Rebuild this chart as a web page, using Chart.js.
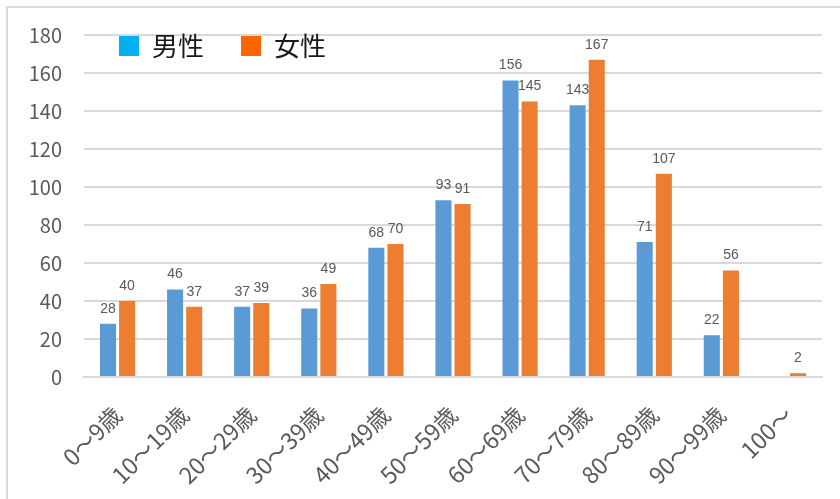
<!DOCTYPE html>
<html>
<head>
<meta charset="utf-8">
<script src="https://cdn.jsdelivr.net/npm/chart.js@4.4.0/dist/chart.umd.min.js"></script>
<style>
  html, body { margin: 0; padding: 0; background: #fff; }
  #wrap { position: relative; width: 840px; height: 499px; overflow: hidden; }
  #frame {
    position: absolute; left: 6px; top: 6px; right: -10px; bottom: -10px;
    border-top: 2px solid #d9d9d9; border-left: 2px solid #d9d9d9;
  }
  canvas { position: absolute; left: 0; top: 0; }
</style>
</head>
<body>
<div id="wrap">
  <div id="frame"></div>
  <canvas id="chart" width="840" height="499"></canvas>
</div>
<script>
// Age groups and counts
const ageGroups = ['0～9歳', '10～19歳', '20～29歳', '30～39歳', '40～49歳',
  '50～59歳', '60～69歳', '70～79歳', '80～89歳', '90～99歳', '100～'];
const maleCounts = [28, 46, 37, 36, 68, 93, 156, 143, 71, 22, null];
const femaleCounts = [40, 37, 39, 49, 70, 91, 145, 167, 107, 56, 2];
const seriesNames = ['男性', '女性'];
const yTicks = [0, 20, 40, 60, 80, 100, 120, 140, 160, 180];

const barColors = ['#5B9BD5', '#ED7D31'];
const legendColors = ['#00B0F0', '#FF6600'];
const textGray = '#595959';
const gridGray = '#d9d9d9';

// Value labels above each bar
const valueLabels = {
  id: 'valueLabels',
  afterDatasetsDraw(chart) {
    const ctx = chart.ctx;
    ctx.save();
    ctx.font = '14px "Liberation Sans", Arial, sans-serif';
    ctx.fillStyle = textGray;
    ctx.textAlign = 'center';
    ctx.textBaseline = 'bottom';
    chart.data.datasets.forEach((ds, i) => {
      const meta = chart.getDatasetMeta(i);
      meta.data.forEach((bar, j) => {
        const v = ds.data[j];
        if (v === null || v === undefined) return;
        ctx.fillText(String(v), bar.x, bar.y - 8);
      });
    });
    ctx.restore();
  }
};

// Legend drawn over the plot, top-left
const overlayLegend = {
  id: 'overlayLegend',
  afterDraw(chart) {
    const ctx = chart.ctx;
    ctx.save();
    ctx.font = '26px "Noto Sans CJK JP", sans-serif';
    ctx.textBaseline = 'middle';
    ctx.textAlign = 'left';
    const xs = [119, 241];
    seriesNames.forEach((name, i) => {
      ctx.fillStyle = legendColors[i];
      ctx.fillRect(xs[i], 36, 20, 20);
      ctx.fillStyle = '#1a1a1a';
      ctx.fillText(name, xs[i] + 33, 46);
    });
    ctx.restore();
  }
};

new Chart(document.getElementById('chart').getContext('2d'), {
  type: 'bar',
  data: {
    labels: ageGroups,
    datasets: [
      {
        label: seriesNames[0],
        data: maleCounts,
        backgroundColor: barColors[0],
        categoryPercentage: 0.57,
        barPercentage: 0.84
      },
      {
        label: seriesNames[1],
        data: femaleCounts,
        backgroundColor: barColors[1],
        categoryPercentage: 0.57,
        barPercentage: 0.84
      }
    ]
  },
  options: {
    responsive: false,
    animation: false,
    layout: { padding: { left: 0, top: 35, right: 18, bottom: 0 } },
    plugins: {
      legend: { display: false },
      tooltip: { enabled: false }
    },
    scales: {
      x: {
        grid: { display: false, drawTicks: false },
        border: { display: true, color: gridGray, width: 2 },
        ticks: {
          color: textGray,
          font: { family: '"Noto Sans CJK JP", sans-serif', size: 23 },
          minRotation: 45,
          maxRotation: 45,
          padding: 24,
          autoSkip: false
        },
        afterFit(scale) { scale.height = 122; }
      },
      y: {
        min: 0,
        max: 180,
        afterBuildTicks(scale) { scale.ticks = yTicks.map(v => ({ value: v })); },
        grid: { color: gridGray, lineWidth: 2, drawTicks: false },
        border: { display: false },
        ticks: {
          color: textGray,
          font: { family: '"Noto Sans CJK JP", sans-serif', size: 20 },
          padding: 22
        },
        afterFit(scale) { scale.width = 84; }
      }
    }
  },
  plugins: [valueLabels, overlayLegend]
});
</script>
</body>
</html>
